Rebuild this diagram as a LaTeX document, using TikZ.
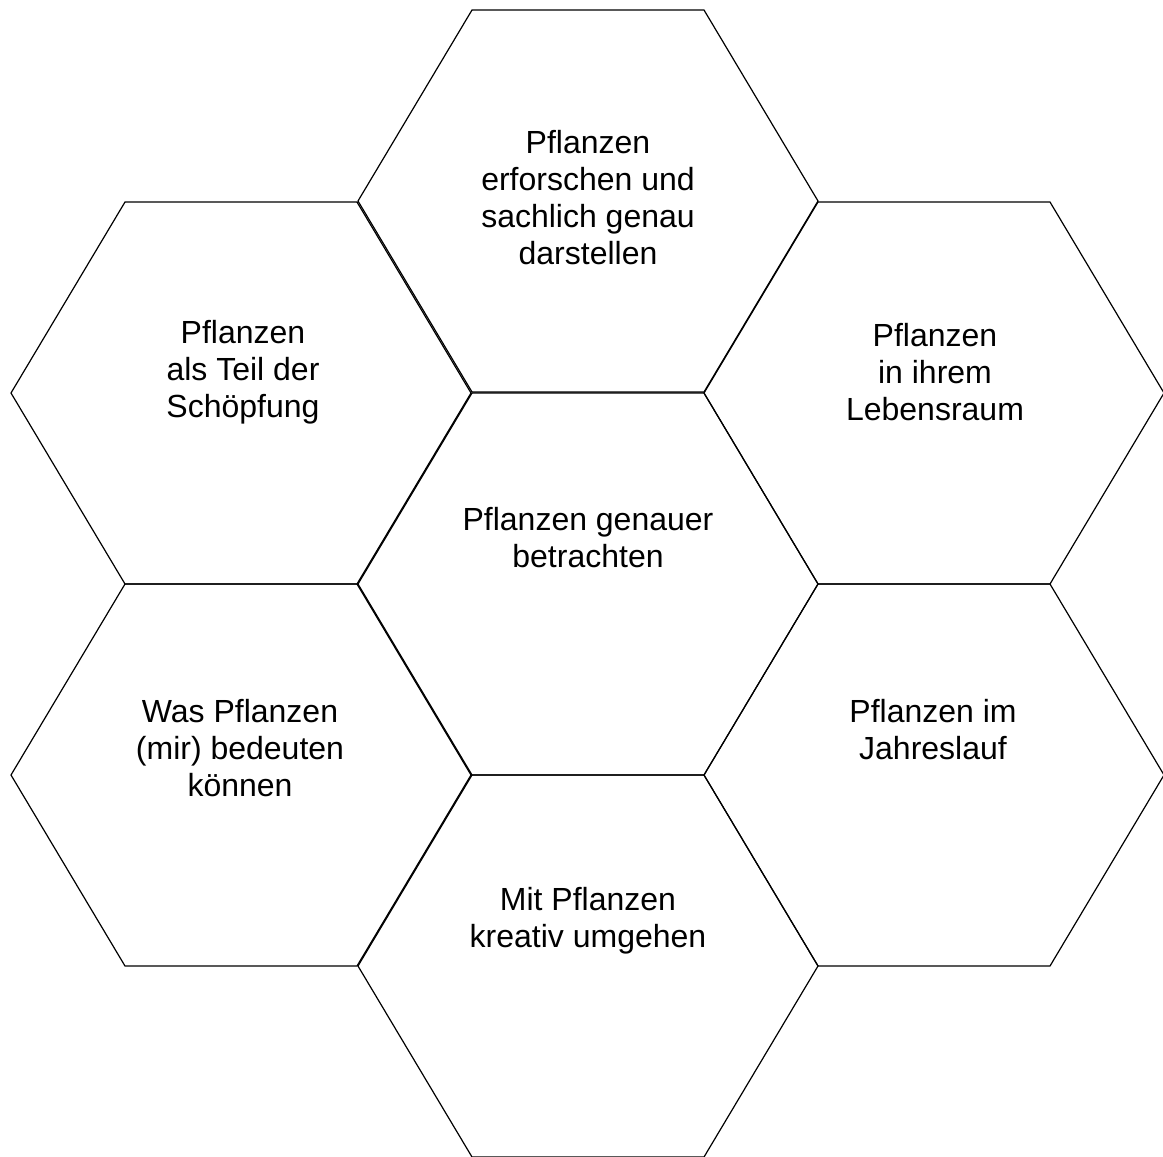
\documentclass[tikz,border=0pt]{standalone}
\usepackage{fontspec}
\setmainfont{Liberation Sans}
\begin{document}
\begin{tikzpicture}[x=1pt,y=-1pt,
  hexline/.style={draw=black,line width=1.2pt,line join=miter},
  hextext/.style={align=center,font=\fontsize{32}{37}\selectfont,inner sep=0pt}]
\useasboundingbox (0,0) rectangle (1163,1157);
% hexagon macro: center (cx,cy)
\newcommand{\myhex}[2]{%
  \draw[hexline] (#1-230,#2) -- (#1-116,#2-191) -- (#1+116,#2-191) -- (#1+230,#2) -- (#1+116,#2+191) -- (#1-116,#2+191) -- cycle;}
\myhex{588}{584}
\myhex{588}{201}
\myhex{588}{966}
\myhex{241}{393}
\myhex{934}{393}
\myhex{241}{775}
\myhex{934}{775}
\node[hextext] (top) at (588,198) {Pflanzen\\erforschen und\\sachlich genau\\darstellen};
\node[hextext] (ul) at (243,372) {Pflanzen\\als Teil der\\Schöpfung};
\node[hextext] (ur) at (935,372) {Pflanzen\\in ihrem\\Lebensraum};
\node[hextext] (mid) at (588,538) {Pflanzen genauer\\betrachten};
\node[hextext] (ll) at (240,748) {Was Pflanzen\\(mir) bedeuten\\können};
\node[hextext] (lr) at (933,730) {Pflanzen im\\Jahreslauf};
\node[hextext] (bot) at (588,921) {Mit Pflanzen\\kreativ umgehen};
\end{tikzpicture}
\end{document}
